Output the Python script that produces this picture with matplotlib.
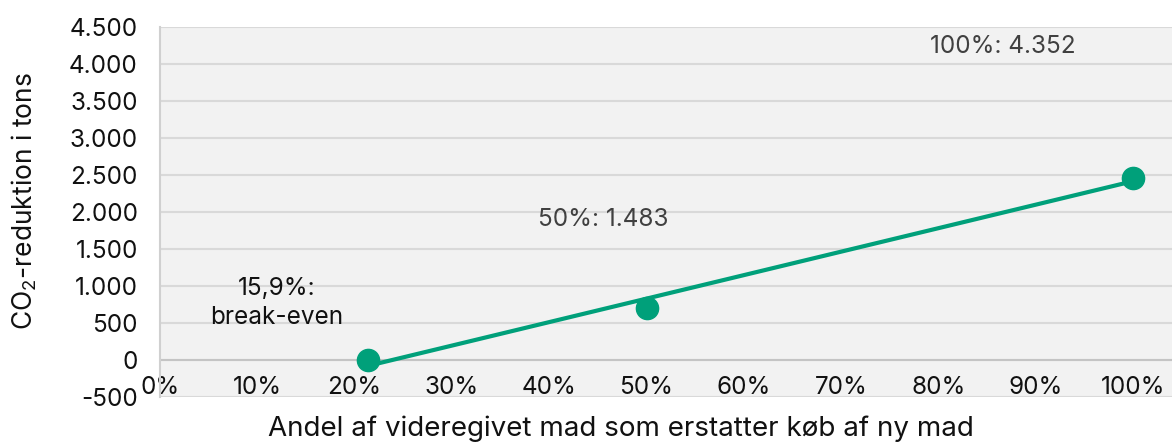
import matplotlib.pyplot as plt
import matplotlib.ticker as mticker
import numpy as np

plt.rcParams['font.family'] = ['Inter', 'DejaVu Sans']
plt.rcParams['mathtext.default'] = 'regular'

# data
andel = [0.214, 0.50, 1.00]
co2 = [0, 703, 2459]

x_ticks = np.arange(0, 1.01, 0.1)
y_ticks = np.arange(-500, 4501, 500)

notes = ["15,9%:\nbreak-even", "50%: 1.483", "100%: 4.352"]
note_x = [0.12, 0.456, 0.866]
note_y = [770, 1892, 4230]
note_colors = ["#111111", "#404040", "#404040"]

GREEN = "#00a07a"


def thousands(v, pos):
    return f"{int(v):,}".replace(",", ".")


def main():
    fig = plt.figure(figsize=(11.72, 4.45), dpi=100)
    ax = fig.add_axes([0.1365, 0.108, 0.8635, 0.832])
    ax.set_facecolor("#f2f2f2")

    # trendline over the data range
    k, b = np.polyfit(andel, co2, 1)
    xs = np.array([andel[0], andel[-1]])
    ax.plot(xs, k * xs + b, color=GREEN, lw=3, zorder=3)
    ax.plot(andel, co2, "o", color=GREEN, ms=16, zorder=4)

    ax.set_xlim(0, 1.04)
    ax.set_ylim(-500, 4500)
    ax.set_xticks(x_ticks)
    ax.set_yticks(y_ticks)
    ax.xaxis.set_major_formatter(mticker.FuncFormatter(lambda v, p: f"{v * 100:.0f}%"))
    ax.yaxis.set_major_formatter(mticker.FuncFormatter(thousands))
    ax.grid(axis="y", color="#d9d9d9", lw=1.5, zorder=0)
    ax.axhline(0, color="#c4c4c4", lw=1.5, zorder=1)
    ax.set_axisbelow(True)

    for s in ["top", "right", "bottom"]:
        ax.spines[s].set_visible(False)
    ax.spines["left"].set_color("#d0d0d0")
    ax.spines["left"].set_linewidth(1.5)

    ax.tick_params(axis="x", length=0, pad=-15, labelsize=17.5, colors="#111111")
    ax.tick_params(axis="y", length=0, pad=16, labelsize=17.5, colors="#111111")
    for lab in ax.get_xticklabels():
        lab.set_zorder(5)

    ax.set_ylabel("CO$_2$-reduktion i tons", fontsize=19, color="#111111")
    ax.set_xlabel("Andel af videregivet mad som erstatter køb af ny mad", fontsize=20,
                  color="#111111")
    ax.xaxis.set_label_coords(0.455, -0.05)
    ax.yaxis.set_label_coords(-0.12, 0.53)

    for t, x, y, c in zip(notes, note_x, note_y, note_colors):
        ax.text(x, y, t, ha="center", va="center", fontsize=17.5, color=c,
                linespacing=1.3, zorder=5)

    fig.savefig("out.png", dpi=100)


main()
